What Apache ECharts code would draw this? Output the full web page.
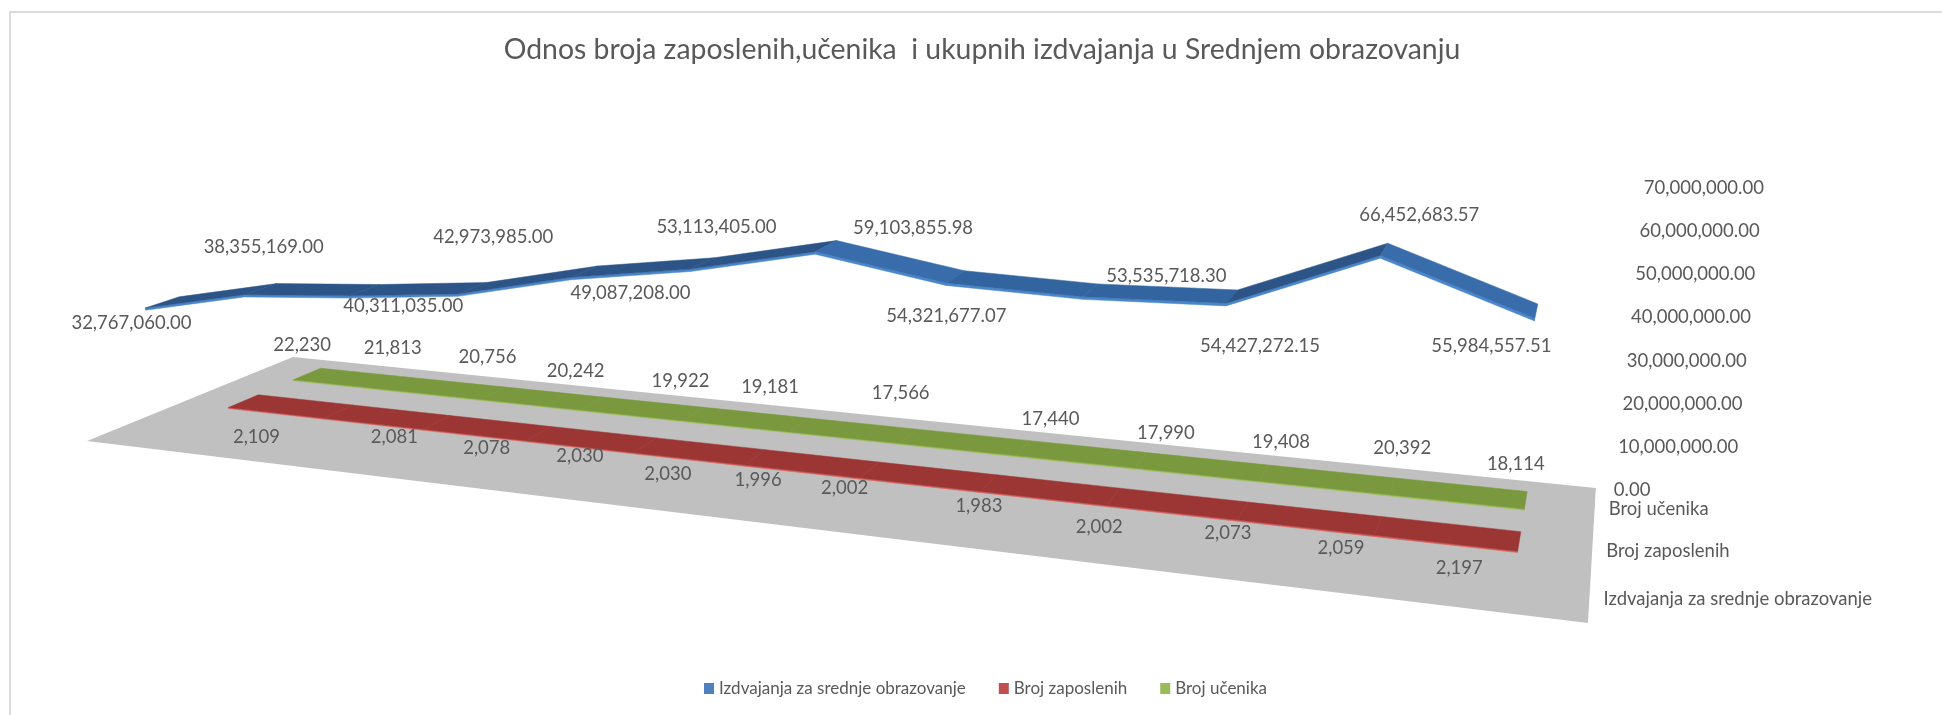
<!DOCTYPE html>
<html>
<head>
<meta charset="utf-8">
<style>html,body{margin:0;padding:0;background:#fff}#c{width:1942px;height:715px}</style>
<script src="https://cdn.jsdelivr.net/npm/echarts@6/dist/echarts.min.js"></script>
</head>
<body>
<div id="c"></div>
<script>
// ---------- data ----------
const categories = ['1','2','3','4','5','6','7','8','9','10','11','12'];
const izdvajanja = [32767060.00,38355169.00,40311035.00,42973985.00,49087208.00,53113405.00,59103855.98,54321677.07,53535718.30,54427272.15,66452683.57,55984557.51];
const zaposleni = [2109,2081,2078,2030,2030,1996,2002,1983,2002,2073,2059,2197];
const ucenici = [22230,21813,20756,20242,19922,19181,17566,17440,17990,19408,20392,18114];
const valueTicks = [0,10000000,20000000,30000000,40000000,50000000,60000000,70000000];
const seriesNames = ['Izdvajanja za srednje obrazovanje','Broj zaposlenih','Broj učenika'];
const chartTitle = 'Odnos broja zaposlenih,učenika  i ukupnih izdvajanja u Srednjem obrazovanju';

// hand-placed data-label nudges (px from the mark), as in the source chart
const izdvajanjaNudge = [[-31,21],[3,-42],[39,16],[21,-51],[46,21],[14,-36],[87,-18],[-9,39],[76,-14],[28,50],[35,-34],[-45,35]];
const zaposleniNudge = [[13,36],[56,26],[50,26],[41,22],[23,29],[3,23],[-25,18],[-10,23],[-14,30],[-15,22],[-37,22],[-60,27]];
const uceniciNudge = [[-5,-29],[-6,-35],[-6,-36],[-16,-32],[-13,-33],[-29,-38],[-8,-43],[28,-29],[25,-27],[17,-31],[10,-38],[-10,-36]];

// ---------- 3D projection of the plot box ----------
const CAM = {g:-0.2290,i:0.1534,ax:1137.3,bx:250.9,cx:87,ay:39.3,by:-29.2,cy:441,height:279,vx:831,lean:1.3e-4};
function project(u,d,h){
  const w = 1+CAM.g*u+CAM.i*d;
  const x = (CAM.ax*u+CAM.bx*d+CAM.cx)/w;
  const y = (CAM.ay*u+CAM.by*d+CAM.cy)/w;
  const hp = h*CAM.height/w;
  return [x+(x-CAM.vx)*CAM.lean*hp, y-hp];
}
function boxPos(params,api,i,v){
  const c = api.coord([i,v]), cs = params.coordSys;
  return {u:(c[0]-cs.x)/cs.width, h:(cs.y+cs.height-c[1])/cs.height};
}
const FONT = 'Lato, "Open Sans", sans-serif';
const TXT = '#595959';
const HALF_DEPTH = 0.075;

function ribbon(vals,depthIndex,fmt,nudge,colors){
  const d = (depthIndex+0.5)/3;
  return {
    type:'custom', coordinateSystem:'cartesian2d', name:seriesNames[depthIndex],
    z:5-depthIndex+2, silent:true, animation:false,
    encode:{x:0,y:1}, data:vals.map((v,i)=>[i,v]),
    renderItem(params,api){
      const i = api.value(0), v = api.value(1), a = boxPos(params,api,i,v);
      const children = [];
      if(i<vals.length-1){
        const b = boxPos(params,api,i+1,vals[i+1]);
        const rising = b.h>a.h+0.02, falling = b.h<a.h-0.02;
        const fa = project(a.u,d-HALF_DEPTH,a.h), fb = project(b.u,d-HALF_DEPTH,b.h);
        const ka = project(a.u,d+HALF_DEPTH,a.h), kb = project(b.u,d+HALF_DEPTH,b.h);
        const fa2 = project(a.u,d-HALF_DEPTH,a.h-colors.thick), fb2 = project(b.u,d-HALF_DEPTH,b.h-colors.thick);
        const top = rising?colors.rise:(falling?colors.fall:colors.flat);
        children.push({type:'polygon',shape:{points:[fa2,fb2,fb,fa]},style:{fill:colors.edge,stroke:colors.edge,lineWidth:0.5}});
        children.push({type:'polygon',shape:{points:[fa,fb,kb,ka]},style:{fill:top,stroke:top,lineWidth:0.5}});
      }
      const p = project(a.u,d,a.h);
      children.push({type:'text',z2:50,style:{text:fmt(v),x:p[0]+nudge[i][0],y:p[1]+nudge[i][1],align:'center',verticalAlign:'middle',font:'18.5px '+FONT,fill:TXT}});
      return {type:'group',children};
    }
  };
}
const money = v => v.toLocaleString('en-US',{minimumFractionDigits:2,maximumFractionDigits:2});
const whole = v => v.toLocaleString('en-US');

const floorSeries = {
  type:'custom', coordinateSystem:'cartesian2d', name:'floor', z:1, silent:true, animation:false,
  encode:{x:0,y:1}, data:[[0,0]],
  renderItem(params,api){
    return {type:'polygon',shape:{points:[project(0,0,0),project(1,0,0),project(1,1,0),project(0,1,0)]},style:{fill:'#c0c0c0'}};
  }
};
const tickSeries = {
  type:'custom', coordinateSystem:'cartesian2d', name:'ticks', z:9, silent:true, animation:false,
  encode:{x:0,y:1}, data:valueTicks.map(v=>[0,v]),
  renderItem(params,api){
    const v = api.value(1), a = boxPos(params,api,0,v), p = project(1,1,a.h);
    return {type:'text',style:{text:money(v),x:p[0]+18,y:p[1]+2,align:'left',verticalAlign:'middle',font:'18.5px '+FONT,fill:TXT}};
  }
};
const depthSeries = {
  type:'custom', coordinateSystem:'cartesian2d', name:'depth', z:9, silent:true, animation:false,
  encode:{x:0,y:1}, data:seriesNames.map((n,i)=>[0,i]),
  renderItem(params,api){
    const i = api.value(1), p = project(1,(i+0.5)/3,0);
    return {type:'text',style:{text:seriesNames[i],x:p[0]+14,y:p[1]+2,align:'left',verticalAlign:'middle',font:'18.5px '+FONT,fill:TXT}};
  }
};

const chart = echarts.init(document.getElementById('c'),null,{renderer:'canvas'});
chart.setOption({
  animation:false,
  backgroundColor:'#ffffff',
  title:{text:chartTitle,left:977,top:31,textAlign:'center',textStyle:{fontFamily:FONT,fontSize:28.4,fontWeight:'normal',color:TXT}},
  legend:{
    left:699,top:675,icon:'rect',itemWidth:10,itemHeight:11,itemGap:33,selectedMode:false,
    textStyle:{fontFamily:FONT,fontSize:17,color:TXT},
    data:[
      {name:seriesNames[0],itemStyle:{color:'#4f81bd'}},
      {name:seriesNames[1],itemStyle:{color:'#c0504d'}},
      {name:seriesNames[2],itemStyle:{color:'#9bbb59'}}
    ]
  },
  graphic:[{type:'rect',silent:true,z:-1,shape:{x:10,y:12,width:1960,height:760},style:{fill:'none',stroke:'#dcdcdc',lineWidth:2}}],
  grid:{left:100,right:100,top:100,bottom:100},
  xAxis:{type:'category',data:categories,show:false},
  yAxis:{type:'value',min:0,max:70000000,interval:10000000,show:false},
  series:[
    floorSeries,
    ribbon(ucenici,2,whole,uceniciNudge,{rise:'#7a993e',fall:'#7a993e',flat:'#7a993e',edge:'#a0bf58',thick:0.004}),
    ribbon(zaposleni,1,whole,zaposleniNudge,{rise:'#9c3634',fall:'#9c3634',flat:'#9c3634',edge:'#d9605c',thick:0.004}),
    ribbon(izdvajanja,0,money,izdvajanjaNudge,{rise:'#2c5487',fall:'#386cab',flat:'#32649f',edge:'#4a86cc',thick:0.008}),
    tickSeries,
    depthSeries
  ]
});
</script>
</body>
</html>
